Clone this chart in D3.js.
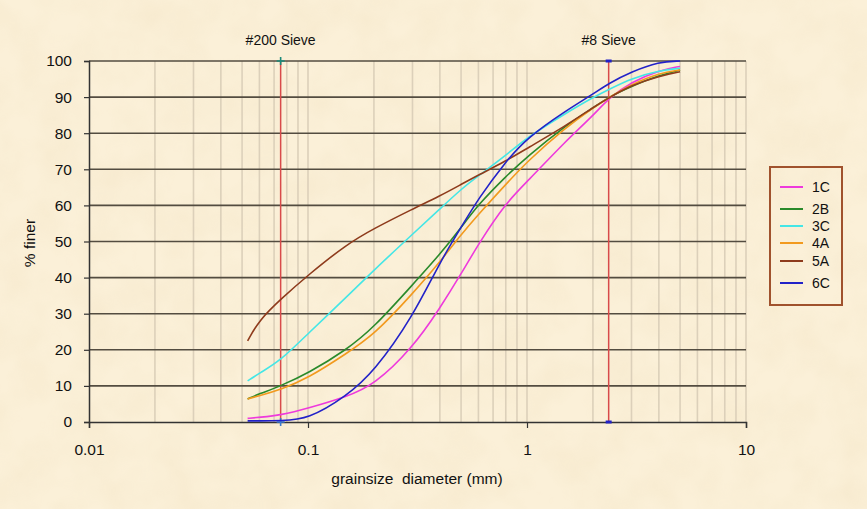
<!DOCTYPE html>
<html><head><meta charset="utf-8">
<script src="https://cdn.jsdelivr.net/npm/d3@7"></script>
<style>html,body{margin:0;padding:0;background:#f8ecd0;}svg{display:block;}</style>
</head><body>
<svg id="chart" width="867" height="509"></svg>
<script>
// ---- data ----
const sizes = [0.053, 0.06, 0.075, 0.1, 0.15, 0.2, 0.3, 0.4, 0.5, 0.6, 0.8, 1.0, 1.5, 2.0, 2.36, 3.0, 4.0, 5.0];
const s1C = [1.0, 1.3, 1.9, 3.8, 7.0, 10.2, 20.5, 31.5, 41, 49.3, 60.7, 66.5, 77.8, 84.8, 89.7, 94.2, 97.4, 98.5];
const s2B = [6.4, 7.8, 10, 13.5, 20, 26.2, 38, 46.4, 53.8, 60.3, 68, 73.5, 82.1, 87, 90, 93, 96, 97.5];
const s3C = [11.4, 13.5, 17, 24.5, 34.6, 42.1, 52, 59, 64.5, 68.2, 73.8, 78.8, 85.5, 89.9, 92.1, 95.2, 97.3, 98];
const s4A = [6.4, 7.3, 9, 12.1, 19, 24.1, 35.5, 44.3, 51.9, 57.5, 65.8, 72.1, 81.6, 87, 89.8, 93.5, 96.6, 97.5];
const s5A = [22.5, 28.3, 34, 40.7, 49.2, 53.6, 59, 62.6, 65.8, 68.4, 72.3, 75.8, 82, 87.1, 89.8, 93.3, 95.8, 97];
const s6C = [0.3, 0.3, 0.4, 0.7, 7.2, 13.9, 29, 44.3, 53.9, 61.9, 72.2, 78.7, 86.2, 90.8, 93.8, 97, 99.8, 100];
const seriesNames = ["1C", "2B", "3C", "4A", "5A", "6C"];
const seriesValues = [s1C, s2B, s3C, s4A, s5A, s6C];
const seriesColors = ["#ee3adc", "#2a8a2a", "#44e6e6", "#f29a1e", "#8e3b1c", "#2222c8"];
const sieveNames = ["#200 Sieve", "#8 Sieve"];
const sieveSizes = [0.075, 2.36];
const xTicks = [0.01, 0.1, 1, 10];
const xTickLabels = ["0.01", "0.1", "1", "10"];
const yTicks = [0, 10, 20, 30, 40, 50, 60, 70, 80, 90, 100];

// ---- layout ----
const svg = d3.select("#chart");
const W = 867, H = 509;
const FONT = "Arial, 'Liberation Sans', sans-serif";
const x = d3.scaleLog().domain([0.01, 10]).range([89, 746]);
const y = d3.scaleLinear().domain([0, 100]).range([422, 61]);

// background parchment
const defs = svg.append("defs");
const f = defs.append("filter").attr("id", "parch").attr("x", 0).attr("y", 0).attr("width", "100%").attr("height", "100%");
f.append("feTurbulence").attr("type", "fractalNoise").attr("baseFrequency", "0.025").attr("numOctaves", 3).attr("seed", 7).attr("result", "n");
f.append("feColorMatrix").attr("in", "n").attr("type", "matrix")
  .attr("values", "0 0 0 0 0.82  0 0 0 0 0.68  0 0 0 0 0.44  0 0 0 -1.1 0.75");
svg.append("rect").attr("width", W).attr("height", H).attr("fill", "#fbf0d8");
svg.append("rect").attr("width", W).attr("height", H).attr("filter", "url(#parch)").attr("opacity", 0.3);

// vertical minor gridlines
const vgrid = [];
[0.01, 0.1, 1].forEach(d => { for (let k = 1; k <= 9; k++) vgrid.push(d * k); });
vgrid.push(10);
svg.append("g").selectAll("line").data(vgrid.filter(v => v > 0.0101)).join("line")
  .attr("x1", d => x(d)).attr("x2", d => x(d)).attr("y1", y(100)).attr("y2", y(0))
  .attr("stroke", "#dcd0ba").attr("stroke-width", 1.6);

// horizontal gridlines
svg.append("g").selectAll("line").data(yTicks.filter(v => v > 0)).join("line")
  .attr("x1", x(0.01)).attr("x2", x(10)).attr("y1", d => y(d)).attr("y2", d => y(d))
  .attr("stroke", "#534c40").attr("stroke-width", 1.6);

// axes
const xAxis = d3.axisBottom(x).tickValues(xTicks).tickFormat((d, i) => xTickLabels[i]).tickSize(6).tickPadding(16);
const gx = svg.append("g").attr("transform", `translate(0,${y(0)})`).call(xAxis);
gx.select(".domain").attr("stroke", "#333").attr("stroke-width", 1.5);
gx.selectAll(".tick line").attr("stroke", "#333").attr("stroke-width", 1.2);
gx.selectAll("text").attr("font-family", FONT).attr("font-size", 15.5).attr("fill", "#111");

const yAxis = d3.axisLeft(y).tickValues(yTicks).tickSize(5).tickPadding(12);
const gy = svg.append("g").attr("transform", `translate(${x(0.01)},0)`).call(yAxis);
gy.select(".domain").attr("stroke", "#333").attr("stroke-width", 1.5);
gy.selectAll(".tick line").attr("stroke", "#333").attr("stroke-width", 1.2);
gy.selectAll("text").attr("font-family", FONT).attr("font-size", 15.5).attr("fill", "#111");

// axis titles
svg.append("text").attr("x", 417).attr("y", 484).attr("text-anchor", "middle")
  .attr("font-family", FONT).attr("font-size", 15.5).attr("fill", "#111")
  .attr("xml:space", "preserve").text("grainsize  diameter (mm)");
svg.append("text").attr("transform", "translate(35,243) rotate(-90)").attr("text-anchor", "middle")
  .attr("font-family", FONT).attr("font-size", 15.5).attr("fill", "#111")
  .text("% finer");

// sieve lines
const sg = svg.append("g");
sieveSizes.forEach((s, i) => {
  sg.append("line").attr("x1", x(s)).attr("x2", x(s)).attr("y1", y(100)).attr("y2", y(0))
    .attr("stroke", "#d84a4a").attr("stroke-width", 1.5);
  sg.append("text").attr("x", x(s)).attr("y", 45).attr("text-anchor", "middle")
    .attr("font-family", FONT).attr("font-size", 14).attr("fill", "#111")
    .text(sieveNames[i]);
});
// markers on sieve lines
[[sieveSizes[0], 100, "#1a8a7a"], [sieveSizes[0], 0, "#3a7ad0"]].forEach(([s, v, c]) => {
  sg.append("path").attr("d", `M${x(s) - 4},${y(v)}h8M${x(s)},${y(v) - 4}v8`).attr("stroke", c).attr("stroke-width", 1.6);
});
[[sieveSizes[1], 100], [sieveSizes[1], 0]].forEach(([s, v]) => {
  sg.append("rect").attr("x", x(s) - 3).attr("y", y(v) - 1.5).attr("width", 6).attr("height", 3).attr("fill", "#2222c8");
});

// series
const line = d3.line().x(d => x(d[0])).y(d => y(d[1])).curve(d3.curveBasis);
svg.append("g").selectAll("path").data(seriesValues).join("path")
  .attr("d", vals => line(sizes.map((s, i) => [s, vals[i]])))
  .attr("fill", "none").attr("stroke", (d, i) => seriesColors[i]).attr("stroke-width", 1.6);

// legend
const lg = svg.append("g");
lg.append("rect").attr("x", 770).attr("y", 167).attr("width", 72).attr("height", 138)
  .attr("fill", "none").attr("stroke", "#a0522d").attr("stroke-width", 2);
const legY = [187, 209, 226, 243, 261, 283];
seriesNames.forEach((n, i) => {
  lg.append("line").attr("x1", 780).attr("x2", 803).attr("y1", legY[i]).attr("y2", legY[i])
    .attr("stroke", seriesColors[i]).attr("stroke-width", 2);
  lg.append("text").attr("x", 812).attr("y", legY[i] + 5)
    .attr("font-family", FONT).attr("font-size", 14).attr("fill", "#111")
    .text(n);
});
</script>
</body></html>
